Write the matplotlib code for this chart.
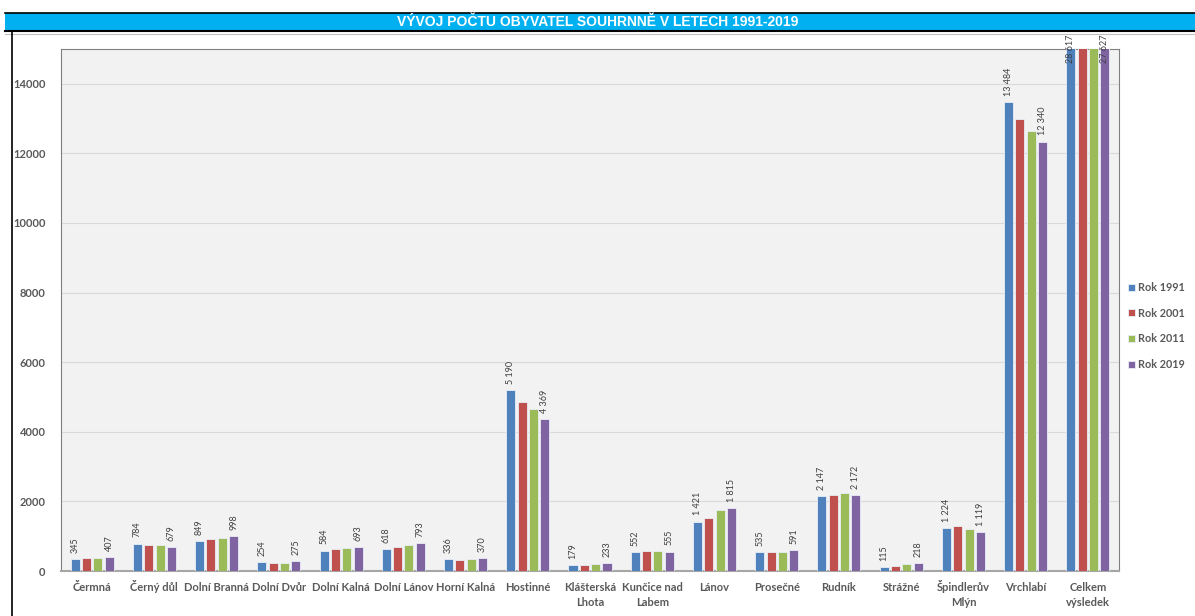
import numpy as np
import matplotlib
matplotlib.use("Agg")
import matplotlib.pyplot as plt
from matplotlib.patches import Rectangle
from matplotlib.lines import Line2D

# data
obce = ["Čermná", "Černý důl", "Dolní Branná", "Dolní Dvůr", "Dolní Kalná",
        "Dolní Lánov", "Horní Kalná", "Hostinné", "Klášterská\nLhota",
        "Kunčice nad\nLabem", "Lánov", "Prosečné", "Rudník", "Strážné",
        "Špindlerův\nMlýn", "Vrchlabí", "Celkem\nvýsledek"]
rok_1991 = [345, 784, 849, 254, 584, 618, 336, 5190, 179, 552, 1421, 535, 2147, 115, 1224, 13484, 28617]
rok_2001 = [385, 760, 910, 232, 640, 680, 312, 4870, 172, 580, 1510, 550, 2190, 132, 1300, 13000, 28400]
rok_2011 = [380, 760, 960, 232, 670, 740, 350, 4650, 190, 580, 1760, 550, 2230, 190, 1200, 12650, 28000]
rok_2019 = [407, 679, 998, 275, 693, 793, 370, 4369, 233, 555, 1815, 591, 2172, 218, 1119, 12340, 27627]
roky = ["Rok 1991", "Rok 2001", "Rok 2011", "Rok 2019"]
barvy = ["#4F81BD", "#C0504D", "#9BBB59", "#8064A2"]

plt.rcParams['font.family'] = ['Lato', 'DejaVu Sans']

fig = plt.figure(figsize=(11.95, 6.16), dpi=100)
fig.patch.set_facecolor("white")

# title bar
fig.patches.append(Rectangle((5 / 1195, 1 - 31 / 616), 1, 18 / 616, transform=fig.transFigure,
                             facecolor="#00B0F0", edgecolor="none"))
fig.lines.append(Line2D([5 / 1195, 1], [1 - 13 / 616] * 2, transform=fig.transFigure, color="black", lw=1.2))
fig.lines.append(Line2D([5 / 1195, 1], [1 - 31 / 616] * 2, transform=fig.transFigure, color="black", lw=1.5))
fig.lines.append(Line2D([5 / 1195, 1], [1 - 34 / 616] * 2, transform=fig.transFigure, color="#BFBFBF", lw=0.8))
fig.lines.append(Line2D([12 / 1195] * 2, [0, 1 - 31 / 616], transform=fig.transFigure, color="black", lw=1.2))
fig.text(0.5, 1 - 22 / 616, "VÝVOJ POČTU OBYVATEL SOUHRNNĚ V LETECH 1991-2019",
         ha="center", va="center", color="white", fontsize=10, fontweight="bold",
         family=["Liberation Sans Narrow", "Liberation Sans", "DejaVu Sans"])

ax = fig.add_axes([61 / 1195, 1 - 571 / 616, (1119 - 61) / 1195, (571 - 49) / 616])
ax.set_facecolor("#F2F2F2")

x = np.arange(len(obce))
pitch = 0.182
width = 0.145
serie = [rok_1991, rok_2001, rok_2011, rok_2019]
for i, (vals, barva, rok) in enumerate(zip(serie, barvy, roky)):
    pos = x + (i - 1.5) * pitch
    ax.bar(pos, vals, width=width, color=barva, edgecolor="#E8EEF7", linewidth=0.6,
           label=rok, zorder=3)
    if i in (0, 3):
        for p, v in zip(pos, vals):
            txt = f"{v:,}".replace(",", " ")
            if v > 15000:
                ax.text(p, 15000, txt, rotation=90, ha="center", va="center", fontsize=6.5,
                        color="#404040", clip_on=False, zorder=5)
            else:
                ax.annotate(txt, (p, v), xytext=(0, 4.5), textcoords="offset points",
                            rotation=90, ha="center", va="bottom", fontsize=6.5, color="#404040")

ax.set_xlim(-0.5, len(obce) - 0.5)
ax.set_ylim(0, 15000)
ax.set_yticks(range(0, 15000, 2000))
ax.set_yticklabels([str(t) for t in range(0, 15000, 2000)])
ax.set_xticks(x)
ax.set_xticklabels([])
ax.tick_params(axis="x", length=0)
ax.tick_params(axis="y", length=0, pad=11, labelsize=8, colors="#595959")
for lab in ax.get_yticklabels():
    lab.set_fontweight("bold")

# category names, line by line so that all first lines share one baseline
for xi, name in zip(x, obce):
    for j, radek in enumerate(name.split("\n")):
        ax.annotate(radek, (xi, 0), xycoords=("data", "axes fraction"),
                    xytext=(0, -14.4 - 10.8 * j), textcoords="offset points",
                    ha="center", va="baseline", fontsize=8, fontweight="bold",
                    color="#595959", annotation_clip=False)

ax.grid(axis="y", color="#D9D9D9", lw=0.8, zorder=0)
for s in ["top", "right", "left"]:
    ax.spines[s].set_color("#808080")
    ax.spines[s].set_linewidth(0.8)
ax.spines["bottom"].set_color("#A6A6A6")
ax.spines["bottom"].set_linewidth(1.5)

leg = fig.legend(loc="center left", bbox_to_anchor=(1128 / 1195, 1 - 326 / 616), frameon=False,
                 handlelength=0.6, handleheight=0.6, handletextpad=0.3, labelspacing=1.35,
                 borderaxespad=0, borderpad=0, prop={"size": 7.8, "weight": "bold"})
for t in leg.get_texts():
    t.set_color("#595959")

fig.savefig("out.png", dpi=100, facecolor="white")
